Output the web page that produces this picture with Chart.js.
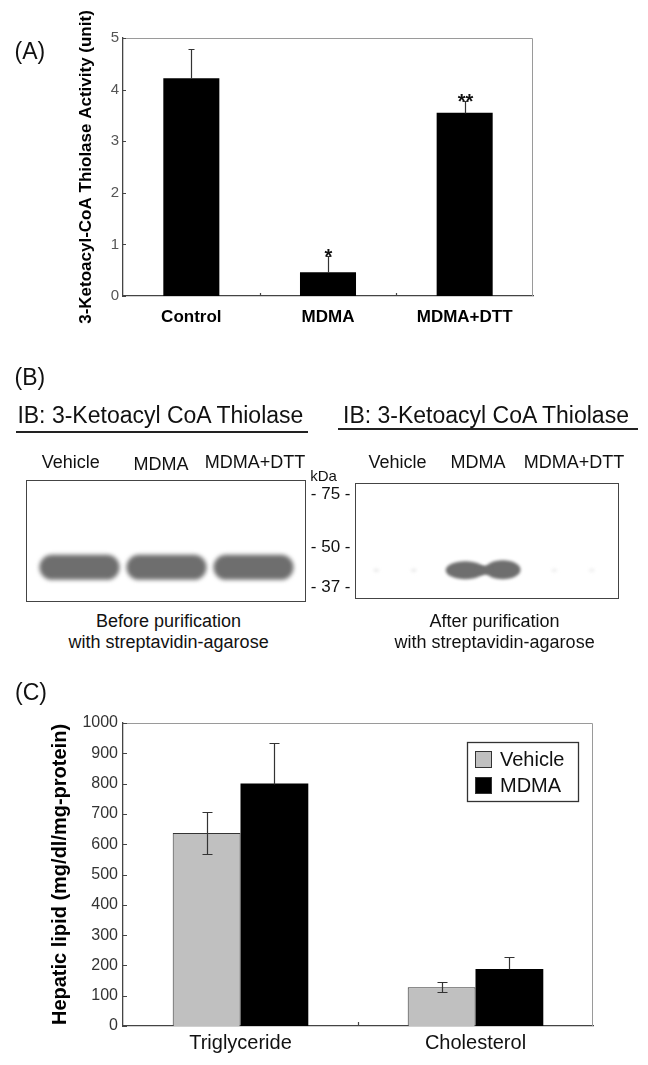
<!DOCTYPE html>
<html><head><meta charset="utf-8">
<script src="https://cdn.jsdelivr.net/npm/chart.js@4.4.1/dist/chart.umd.min.js"></script>
<style>
html,body{margin:0;padding:0;background:#fff;}
body{width:648px;height:1065px;position:relative;overflow:hidden;font-family:"Liberation Sans",Arial,sans-serif;}
canvas{position:absolute;}
.t{position:absolute;line-height:1;white-space:nowrap;color:#111;}
.u{position:absolute;height:1.6px;background:#222;}
</style></head><body>
<canvas id="cA" width="648" height="340" style="left:0px;top:0px"></canvas>
<canvas id="cB1" width="320" height="150" style="left:0px;top:460px"></canvas>
<canvas id="cB2" width="348" height="150" style="left:300px;top:460px"></canvas>
<canvas id="cC" width="648" height="405" style="left:0px;top:660px"></canvas>
<div class="u" style="left:16px;top:431px;width:292px"></div>
<div class="u" style="left:338px;top:428px;width:300px"></div>
<script>
// ---------- DATA ----------
const activityCategories = ['Control', 'MDMA', 'MDMA+DTT'];
const activityValues = [4.22, 0.46, 3.55];
const activityErrors = [0.56, 0.32, 0.23];
const activitySignif = ['', '*', '**'];
const activityTicks = [0, 1, 2, 3, 4, 5];

const laneNames = ['Vehicle', 'MDMA', 'MDMA+DTT'];
const markerKda = [75, 50, 37];
const beforeBandKda = [43, 43, 43];
const beforeBandIntensity = [1, 1, 1];
const afterBandKda = [42, 42, 42];
const afterBandIntensity = [0.12, 1, 0.1];

const lipidCategories = ['Triglyceride', 'Cholesterol'];
const lipidSeries = ['Vehicle', 'MDMA'];
const vehicleLipid = [637, 128];
const vehicleLipidErr = [69, 16];
const mdmaLipid = [800, 188];
const mdmaLipidErr = [133, 40];

const F = '"Liberation Sans", Arial, sans-serif';
Chart.defaults.font.family = F;

// ---------- free text ----------
function txt(s, x, capY, size, o) {
  o = o || {};
  const d = document.createElement('div');
  d.className = 't';
  d.textContent = s;
  d.style.fontSize = size + 'px';
  d.style.top = (capY - 0.49 * size) + 'px';
  if (o.weight) d.style.fontWeight = o.weight;
  if (o.color) d.style.color = o.color;
  d.style.left = x + 'px';
  if (o.center) d.style.transform = 'translateX(-50%)';
  document.body.appendChild(d);
}
txt('(A)', 14.5, 51.7, 23);
txt('(B)', 14.5, 377.5, 23);
txt('(C)', 15, 692.5, 23);
txt('IB: 3-Ketoacyl CoA Thiolase', 17.4, 415, 23);
txt('IB: 3-Ketoacyl CoA Thiolase', 343, 415, 23);
const leftLaneX = [70.7, 161, 255], leftLaneY = [462, 463.5, 462];
const rightLaneX = [397.5, 478, 574];
laneNames.forEach((n, i) => { txt(n, leftLaneX[i], leftLaneY[i], 18, {center: true}); txt(n, rightLaneX[i], 462, 18, {center: true}); });
txt('Before purification', 168.6, 620.7, 18, {center: true});
txt('with streptavidin-agarose', 168.6, 642.3, 18, {center: true});
txt('After purification', 494.6, 620.7, 18, {center: true});
txt('with streptavidin-agarose', 494.6, 642.3, 18, {center: true});

// ---------- plugins ----------
const frame = {
  id: 'frame',
  afterDraw(chart, args, o) {
    const {ctx, chartArea: a, scales: {x, y}} = chart;
    ctx.save();
    ctx.strokeStyle = o.boxColor; ctx.lineWidth = 1;
    ctx.beginPath();
    ctx.moveTo(a.left, a.top + 0.5); ctx.lineTo(a.right - 0.5, a.top + 0.5); ctx.lineTo(a.right - 0.5, a.bottom);
    ctx.stroke();
    ctx.strokeStyle = o.axisColor; ctx.lineWidth = 1.2;
    ctx.beginPath();
    y.ticks.forEach(t => { const py = Math.round(y.getPixelForValue(t.value)) + 0.5; ctx.moveTo(a.left, py); ctx.lineTo(a.left + o.len, py); });
    for (let i = 0; i < x.ticks.length - 1; i++) {
      const px = Math.round((x.getPixelForTick(i) + x.getPixelForTick(i + 1)) / 2) + 0.5;
      ctx.moveTo(px, a.bottom); ctx.lineTo(px, a.bottom - o.len);
    }
    ctx.stroke();
    ctx.restore();
  }
};
const errs = {
  id: 'errs',
  afterDatasetsDraw(chart, args, o) {
    const {ctx} = chart; const y = chart.scales.y;
    ctx.save();
    chart.data.datasets.forEach((ds, di) => {
      if (!ds.errors) return;
      const meta = chart.getDatasetMeta(di);
      meta.data.forEach((bar, i) => {
        const v = ds.data[i], e = ds.errors[i];
        const x = Math.round(bar.x) + 0.5;
        const top = Math.round(y.getPixelForValue(v + e)) + 0.5;
        const bot = Math.round(y.getPixelForValue(ds.errDown ? v - e : v)) + 0.5;
        ctx.strokeStyle = o.color; ctx.lineWidth = o.width;
        ctx.beginPath();
        ctx.moveTo(x, bot); ctx.lineTo(x, top);
        ctx.moveTo(x - o.cap, top); ctx.lineTo(x + o.cap, top);
        if (ds.errDown) { ctx.moveTo(x - o.cap, bot); ctx.lineTo(x + o.cap, bot); }
        ctx.stroke();
        if (ds.marks && ds.marks[i]) {
          ctx.fillStyle = '#111'; ctx.font = o.markFont; ctx.textAlign = 'center'; ctx.textBaseline = 'alphabetic';
          ctx.fillText(ds.marks[i], x, top + o.markOffset);
        }
      });
    });
    ctx.restore();
  }
};
const boxLegend = {
  id: 'boxLegend',
  afterDraw(chart, args, o) {
    const {ctx} = chart;
    ctx.save();
    ctx.fillStyle = '#fff'; ctx.fillRect(o.x, o.y, o.w, o.h);
    ctx.strokeStyle = '#333'; ctx.lineWidth = 1.3; ctx.strokeRect(o.x + 0.5, o.y + 0.5, o.w, o.h);
    chart.data.datasets.forEach((ds, i) => {
      const cy = o.y + o.first + i * o.step;
      ctx.fillStyle = ds.backgroundColor; ctx.fillRect(o.x + 8, cy - 8, 16, 16);
      ctx.strokeStyle = '#333'; ctx.lineWidth = 1; ctx.strokeRect(o.x + 8.5, cy - 7.5, 16, 16);
      ctx.fillStyle = '#111'; ctx.font = o.font; ctx.textAlign = 'left'; ctx.textBaseline = 'middle';
      ctx.fillText(ds.label, o.x + 33, cy + 1);
    });
    ctx.restore();
  }
};
const blot = {
  id: 'blot',
  beforeDatasetsDraw(chart, args, o) {
    const {ctx, chartArea: a} = chart; const xs = chart.scales.x;
    const laneW = Math.abs(xs.getPixelForValue(2) - xs.getPixelForValue(1));
    ctx.save();
    ctx.beginPath(); ctx.rect(a.left, a.top, a.right - a.left, a.bottom - a.top); ctx.clip();
    chart.data.datasets.forEach((ds, di) => {
      const meta = chart.getDatasetMeta(di);
      meta.data.forEach((pt, i) => {
        const k = ds.intensity[i];
        const g = Math.round(255 - k * 145);
        ctx.fillStyle = 'rgb(' + g + ',' + g + ',' + g + ')';
        if (ds.shape === 'band') {
          const w = laneW * 0.92, h = 25;
          ctx.filter = 'blur(2.2px)';
          ctx.beginPath(); ctx.roundRect(pt.x - w / 2, pt.y - h / 2, w, h, h / 2); ctx.fill();
        } else {
          const off = laneW * 0.21;
          if (k > 0.5) {
            ctx.filter = 'blur(1.8px)';
            ctx.beginPath(); ctx.ellipse(pt.x - off, pt.y, laneW * 0.22, 9, 0, 0, Math.PI * 2); ctx.fill();
            ctx.beginPath(); ctx.ellipse(pt.x + off, pt.y - 0.5, laneW * 0.2, 9.5, 0, 0, Math.PI * 2); ctx.fill();
            ctx.beginPath(); ctx.ellipse(pt.x, pt.y, laneW * 0.08, 4.5, 0, 0, Math.PI * 2); ctx.fill();
          } else {
            ctx.filter = 'blur(1.5px)';
            [-off, off].forEach(dx => { ctx.beginPath(); ctx.ellipse(pt.x + dx, pt.y, 3, 2, 0, 0, Math.PI * 2); ctx.fill(); });
          }
        }
      });
    });
    ctx.restore();
    ctx.save();
    ctx.strokeStyle = '#444'; ctx.lineWidth = 1;
    ctx.strokeRect(Math.round(a.left) + 0.5, Math.round(a.top) + 0.5, Math.round(a.right - a.left), Math.round(a.bottom - a.top));
    if (o.markers) {
      const ys = chart.scales.y;
      ctx.fillStyle = '#111'; ctx.font = '17px ' + F; ctx.textAlign = 'right'; ctx.textBaseline = 'middle';
      o.markers.forEach(m => ctx.fillText('- ' + m + ' -', a.left - 4, ys.getPixelForValue(m)));
      ctx.font = '15px ' + F; ctx.textAlign = 'center';
      ctx.fillText('kDa', a.left - 31, ys.getPixelForValue(o.markers[0]) - 17);
    }
    ctx.restore();
  }
};

// ---------- Panel A ----------
new Chart(document.getElementById('cA'), {
  type: 'bar',
  data: {labels: activityCategories, datasets: [{data: activityValues, errors: activityErrors, marks: activitySignif,
    backgroundColor: '#000', borderWidth: 0, barPercentage: 0.41, categoryPercentage: 1}]},
  options: {
    responsive: false, animation: false, devicePixelRatio: 1,
    layout: {padding: {left: 0, top: 38, right: 115, bottom: 14}},
    plugins: {legend: {display: false}, tooltip: {enabled: false},
      frame: {boxColor: '#9a9a9a', axisColor: '#444', len: 3},
      errs: {cap: 3, color: '#333', width: 1.2, markFont: 'bold 20px ' + F, markOffset: 6}},
    scales: {
      x: {grid: {display: false, drawTicks: false}, border: {display: true, color: '#444', width: 1.3},
        ticks: {padding: 11, color: '#000', font: {size: 17, weight: 'bold'}}, afterFit(s) { s.height = 30; }},
      y: {min: 0, max: 5, grid: {display: false, drawTicks: false}, border: {display: true, color: '#444', width: 1.3},
        afterBuildTicks(s) { s.ticks = activityTicks.map(v => ({value: v})); },
        ticks: {padding: 4, color: '#555', font: {size: 15}, callback: v => String(v)},
        title: {display: true, text: '3-Ketoacyl-CoA Thiolase Activity (unit)', color: '#000',
          font: {size: 17, weight: 'bold'}, padding: {top: 76, bottom: 0}},
        afterFit(s) { s.width = 123; }}
    }
  },
  plugins: [frame, errs]
});

// ---------- Panel B ----------
function blotChart(id, kda, intensity, shape, xr, yr, pad, markers) {
  return new Chart(document.getElementById(id), {
    type: 'scatter',
    data: {datasets: [{data: laneNames.map((n, i) => ({x: i + 1, y: kda[i]})), intensity: intensity, shape: shape, pointRadius: 0}]},
    options: {
      responsive: false, animation: false, devicePixelRatio: 1,
      layout: {padding: pad},
      plugins: {legend: {display: false}, tooltip: {enabled: false}, blot: {markers: markers}},
      scales: {
        x: {type: 'linear', display: false, min: xr[0], max: xr[1]},
        y: {type: 'logarithmic', display: false, min: yr[0], max: yr[1]}
      }
    },
    plugins: [blot]
  });
}
blotChart('cB1', beforeBandKda, beforeBandIntensity, 'band', [0.385, 3.592], [33.3, 83.4], {left: 26, right: 15, top: 20, bottom: 9}, null);
blotChart('cB2', afterBandKda, afterBandIntensity, 'doublet', [0.545, 3.503], [34.0, 81.5], {left: 54.5, right: 30.2, top: 23, bottom: 12}, markerKda);

// ---------- Panel C ----------
new Chart(document.getElementById('cC'), {
  type: 'bar',
  data: {labels: lipidCategories, datasets: [
    {label: lipidSeries[0], data: vehicleLipid, errors: vehicleLipidErr, errDown: true, backgroundColor: '#c0c0c0', borderColor: '#333', borderWidth: 1, barPercentage: 1, categoryPercentage: 0.577},
    {label: lipidSeries[1], data: mdmaLipid, errors: mdmaLipidErr, errDown: false, backgroundColor: '#000', borderColor: '#000', borderWidth: 0, barPercentage: 1, categoryPercentage: 0.577}
  ]},
  options: {
    responsive: false, animation: false, devicePixelRatio: 1,
    layout: {padding: {left: 0, top: 63, right: 55, bottom: 9}},
    plugins: {legend: {display: false}, tooltip: {enabled: false},
      frame: {boxColor: '#9a9a9a', axisColor: '#444', len: 4},
      errs: {cap: 5, color: '#333', width: 1.2},
      boxLegend: {x: 467, y: 82, w: 111, h: 59, first: 17, step: 26, font: '20px ' + F}},
    scales: {
      x: {grid: {display: false, drawTicks: false}, border: {display: true, color: '#444', width: 1.3},
        ticks: {padding: 5, color: '#111', font: {size: 20}}, afterFit(s) { s.height = 30; }},
      y: {min: 0, max: 1000, grid: {display: false, drawTicks: false}, border: {display: true, color: '#444', width: 1.3},
        ticks: {stepSize: 100, padding: 5, color: '#333', font: {size: 16}, callback: v => String(v)},
        title: {display: true, text: 'Hepatic lipid (mg/dl/mg-protein)', color: '#000',
          font: {size: 20, weight: 'bold'}, padding: {top: 48, bottom: 0}},
        afterFit(s) { s.width = 123; }}
    }
  },
  plugins: [frame, errs, boxLegend]
});
</script>
</body></html>
